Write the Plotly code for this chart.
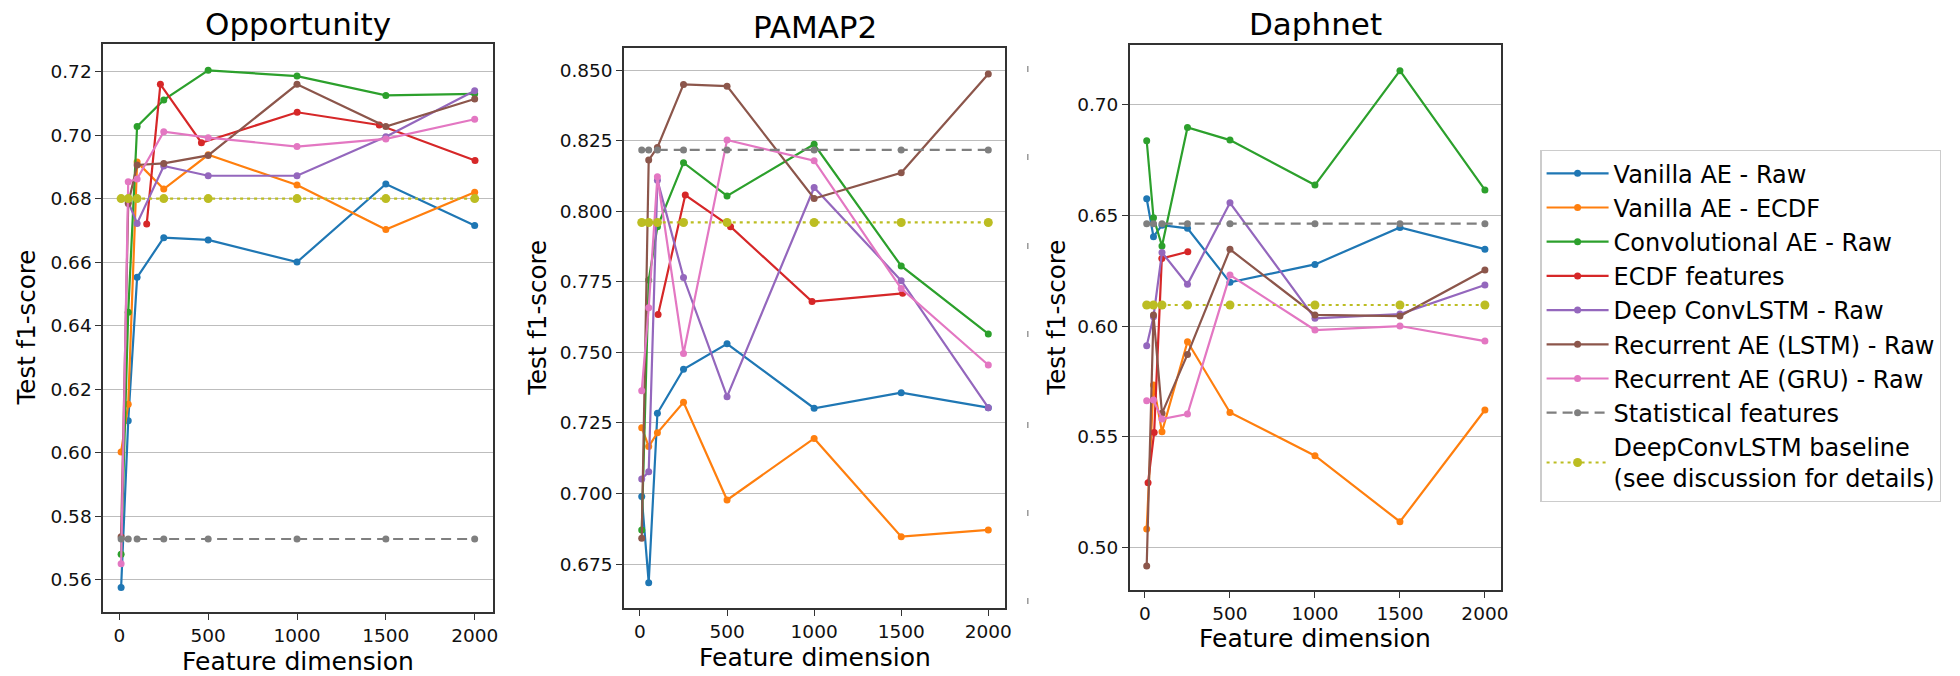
import plotly.graph_objects as go

# ---------------- data ----------------
FEATURE_DIMS = [10, 50, 100, 250, 500, 1000, 1500, 2000]
OPP_ECDF_DIMS = [154, 231, 462, 1001, 1463, 2002]
PAM_ECDF_DIMS = [104, 260, 520, 988, 1508]
DAP_ECDF_DIMS = [18, 54, 99, 252]

SERIES_NAMES = [
    "Vanilla AE - Raw",
    "Vanilla AE - ECDF",
    "Convolutional AE - Raw",
    "ECDF features",
    "Deep ConvLSTM - Raw",
    "Recurrent AE (LSTM) - Raw",
    "Recurrent AE (GRU) - Raw",
    "Statistical features",
    "DeepConvLSTM baseline<br>(see discussion for details)",
]

# Opportunity
OPP_VANILLA_RAW = [0.5575, 0.610, 0.6552, 0.6677, 0.6670, 0.6600, 0.6846, 0.6715]
OPP_VANILLA_ECDF = [0.6002, 0.6152, 0.6915, 0.6830, 0.6938, 0.6843, 0.6703, 0.6820]
OPP_CONV_RAW = [0.5680, 0.6442, 0.7027, 0.7111, 0.7204, 0.7186, 0.7125, 0.7130]
OPP_ECDF_FEAT = [0.6720, 0.7160, 0.6976, 0.7072, 0.7032, 0.6920]
OPP_CONVLSTM = [0.6800, 0.6790, 0.6722, 0.6903, 0.6872, 0.6872, 0.6995, 0.7140]
OPP_LSTM_AE = [0.5735, 0.6785, 0.6906, 0.6911, 0.6936, 0.7160, 0.7027, 0.7114]
OPP_GRU_AE = [0.5650, 0.6853, 0.6862, 0.7011, 0.6992, 0.6964, 0.6988, 0.7050]
OPP_STATISTICAL = [0.5728] * 8
OPP_BASELINE = [0.6800] * 8

# PAMAP2
PAM_VANILLA_RAW = [0.6989, 0.6684, 0.7284, 0.7440, 0.7530, 0.7302, 0.7357, 0.7304]
PAM_VANILLA_ECDF = [0.7233, 0.7166, 0.7215, 0.7323, 0.6977, 0.7195, 0.6847, 0.6871]
PAM_CONV_RAW = [0.6871, 0.7756, 0.7945, 0.8172, 0.8054, 0.8237, 0.7806, 0.7565]
PAM_ECDF_FEAT = [0.7634, 0.8057, 0.7945, 0.7680, 0.7709]
PAM_CONVLSTM = [0.7051, 0.7077, 0.8110, 0.7765, 0.7343, 0.8084, 0.7754, 0.7304]
PAM_LSTM_AE = [0.6841, 0.8181, 0.8226, 0.8449, 0.8443, 0.8045, 0.8136, 0.8486]
PAM_GRU_AE = [0.7364, 0.7658, 0.8122, 0.7496, 0.8252, 0.8179, 0.7726, 0.7455]
PAM_STATISTICAL = [0.8217] * 8
PAM_BASELINE = [0.7960] * 8

# Daphnet
DAP_VANILLA_RAW = [0.6574, 0.6403, 0.6455, 0.6441, 0.6197, 0.6278, 0.6445, 0.6347]
DAP_VANILLA_ECDF = [0.5084, 0.5734, 0.5523, 0.5929, 0.5610, 0.5415, 0.5117, 0.5621]
DAP_CONV_RAW = [0.6836, 0.6489, 0.6361, 0.6896, 0.6839, 0.6636, 0.7152, 0.6614]
DAP_ECDF_FEAT = [0.5293, 0.5520, 0.6305, 0.6335]
DAP_CONVLSTM = [0.5911, 0.6042, 0.6332, 0.6188, 0.6556, 0.6035, 0.6054, 0.6185]
DAP_LSTM_AE = [0.4917, 0.6050, 0.5606, 0.5872, 0.6346, 0.6050, 0.6045, 0.6253]
DAP_GRU_AE = [0.5663, 0.5666, 0.5580, 0.5603, 0.6230, 0.5982, 0.6000, 0.5932]
DAP_STATISTICAL = [0.6462] * 8
DAP_BASELINE = [0.6095] * 8

X_TICKS = [0, 500, 1000, 1500, 2000]
OPP_Y_TICKS = [0.56, 0.58, 0.60, 0.62, 0.64, 0.66, 0.68, 0.70, 0.72]
PAM_Y_TICKS = [0.675, 0.700, 0.725, 0.750, 0.775, 0.800, 0.825, 0.850]
DAP_Y_TICKS = [0.50, 0.55, 0.60, 0.65, 0.70]

PANEL_TITLES = ["Opportunity", "PAMAP2", "Daphnet"]

# ---------------- styling ----------------
COLORS = ["#1f77b4", "#ff7f0e", "#2ca02c", "#d62728", "#9467bd",
          "#8c564b", "#e377c2", "#7f7f7f", "#bcbd22"]
DASHES = ["solid"] * 7 + ["10px,6px", "3px,4px"]
MSIZE = [7] * 8 + [9]
FONT = "DejaVu Sans, Verdana, sans-serif"
W, H = 1960, 676

panels = [
    dict(std=FEATURE_DIMS, ecdf=OPP_ECDF_DIMS,
         ys=[OPP_VANILLA_RAW, OPP_VANILLA_ECDF, OPP_CONV_RAW, OPP_ECDF_FEAT, OPP_CONVLSTM,
             OPP_LSTM_AE, OPP_GRU_AE, OPP_STATISTICAL, OPP_BASELINE],
         xpx=(103.6, 495.0), ypx=(44.0, 612.0), xr=[-91, 2103], yr=[0.5498, 0.7287],
         yt=OPP_Y_TICKS, fmt=".2f"),
    dict(std=FEATURE_DIMS, ecdf=PAM_ECDF_DIMS,
         ys=[PAM_VANILLA_RAW, PAM_VANILLA_ECDF, PAM_CONV_RAW, PAM_ECDF_FEAT, PAM_CONVLSTM,
             PAM_LSTM_AE, PAM_GRU_AE, PAM_STATISTICAL, PAM_BASELINE],
         xpx=(626.7, 1009.3), ypx=(48.3, 607.8), xr=[-91, 2097], yr=[0.6595, 0.8577],
         yt=PAM_Y_TICKS, fmt=".3f"),
    dict(std=FEATURE_DIMS, ecdf=DAP_ECDF_DIMS,
         ys=[DAP_VANILLA_RAW, DAP_VANILLA_ECDF, DAP_CONV_RAW, DAP_ECDF_FEAT, DAP_CONVLSTM,
             DAP_LSTM_AE, DAP_GRU_AE, DAP_STATISTICAL, DAP_BASELINE],
         xpx=(1134.5, 1506.7), ypx=(45.0, 590.0), xr=[-89, 2092], yr=[0.4809, 0.7268],
         yt=DAP_Y_TICKS, fmt=".2f"),
]

fig = go.Figure()
layout = dict(
    width=W, height=H,
    margin=dict(l=0, r=0, t=0, b=0),
    paper_bgcolor="white", plot_bgcolor="white",
    font=dict(family=FONT, color="#111111"),
    showlegend=True,
)

for p_i, p in enumerate(panels):
    suffix = "" if p_i == 0 else str(p_i + 1)
    xa, ya = "x" + suffix, "y" + suffix
    for s_i, yv in enumerate(p["ys"]):
        xv = p["ecdf"] if s_i == 3 else p["std"]
        fig.add_trace(go.Scatter(
            x=xv, y=yv, xaxis=xa, yaxis=ya, mode="lines+markers",
            name=SERIES_NAMES[s_i], legendgroup=str(s_i), showlegend=(p_i == 0),
            line=dict(color=COLORS[s_i], width=2.2, dash=DASHES[s_i]),
            marker=dict(color=COLORS[s_i], size=MSIZE[s_i], line=dict(width=0)),
        ))
    x0, x1 = p["xpx"]
    y0, y1 = p["ypx"]
    layout["xaxis" + suffix] = dict(
        domain=[x0 / W, x1 / W], anchor=ya, range=p["xr"],
        tickvals=X_TICKS, ticks="outside", ticklen=6, tickwidth=1.2, tickcolor="#333",
        showgrid=False, zeroline=False, showline=True, mirror=True,
        linecolor="#333333", linewidth=1.6,
        tickfont=dict(size=18.5, family=FONT, color="#111"),
    )
    layout["yaxis" + suffix] = dict(
        domain=[1 - y1 / H, 1 - y0 / H], anchor=xa, range=p["yr"],
        tickvals=p["yt"], tickformat=p["fmt"], ticks="outside", ticklen=6,
        tickwidth=1.2, tickcolor="#333",
        showgrid=True, gridcolor="#bdbdbd", gridwidth=1.3, zeroline=False,
        showline=True, mirror=True, linecolor="#333333", linewidth=1.6,
        tickfont=dict(size=18.5, family=FONT, color="#111"),
    )

annots = []
title_y = [23.7, 26.7, 23.7]
ytitle_x = [27, 539, 1060]
ytitle_y = [327.6, 318, 318]
xtitle_y = [661.6, 657, 638]
for p_i, p in enumerate(panels):
    cx = (p["xpx"][0] + p["xpx"][1]) / 2
    annots.append(dict(text=PANEL_TITLES[p_i], x=cx / W, y=1 - title_y[p_i] / H,
                       xref="paper", yref="paper", showarrow=False,
                       xanchor="center", yanchor="middle",
                       font=dict(size=31, family=FONT, color="#000")))
    annots.append(dict(text="Test f1-score", x=ytitle_x[p_i] / W, y=1 - ytitle_y[p_i] / H,
                       xref="paper", yref="paper", showarrow=False, textangle=-90,
                       xanchor="center", yanchor="middle",
                       font=dict(size=24.5, family=FONT, color="#000")))
    annots.append(dict(text="Feature dimension", x=cx / W, y=1 - xtitle_y[p_i] / H,
                       xref="paper", yref="paper", showarrow=False,
                       xanchor="center", yanchor="middle",
                       font=dict(size=25, family=FONT, color="#000")))
layout["annotations"] = annots

# small stray tick marks visible between the PAMAP2 and Daphnet panels
STRAY_MARK_Y = [69, 157, 246, 334, 425, 513, 601]
layout["shapes"] = [
    dict(type="line", xref="paper", yref="paper",
         x0=1032 / W, x1=1032 / W, y0=1 - (yy - 3) / H, y1=1 - (yy + 3) / H,
         line=dict(color="#999999", width=1.5))
    for yy in STRAY_MARK_Y
]

layout["legend"] = dict(
    x=1546.7 / W, y=1 - 150 / H, xanchor="left", yanchor="top",
    bgcolor="white", bordercolor="#cccccc", borderwidth=1.2,
    font=dict(size=24, family=FONT, color="#000"),
    itemwidth=62, tracegroupgap=0,
)

fig.update_layout(**layout)
fig.write_html("out.html")
